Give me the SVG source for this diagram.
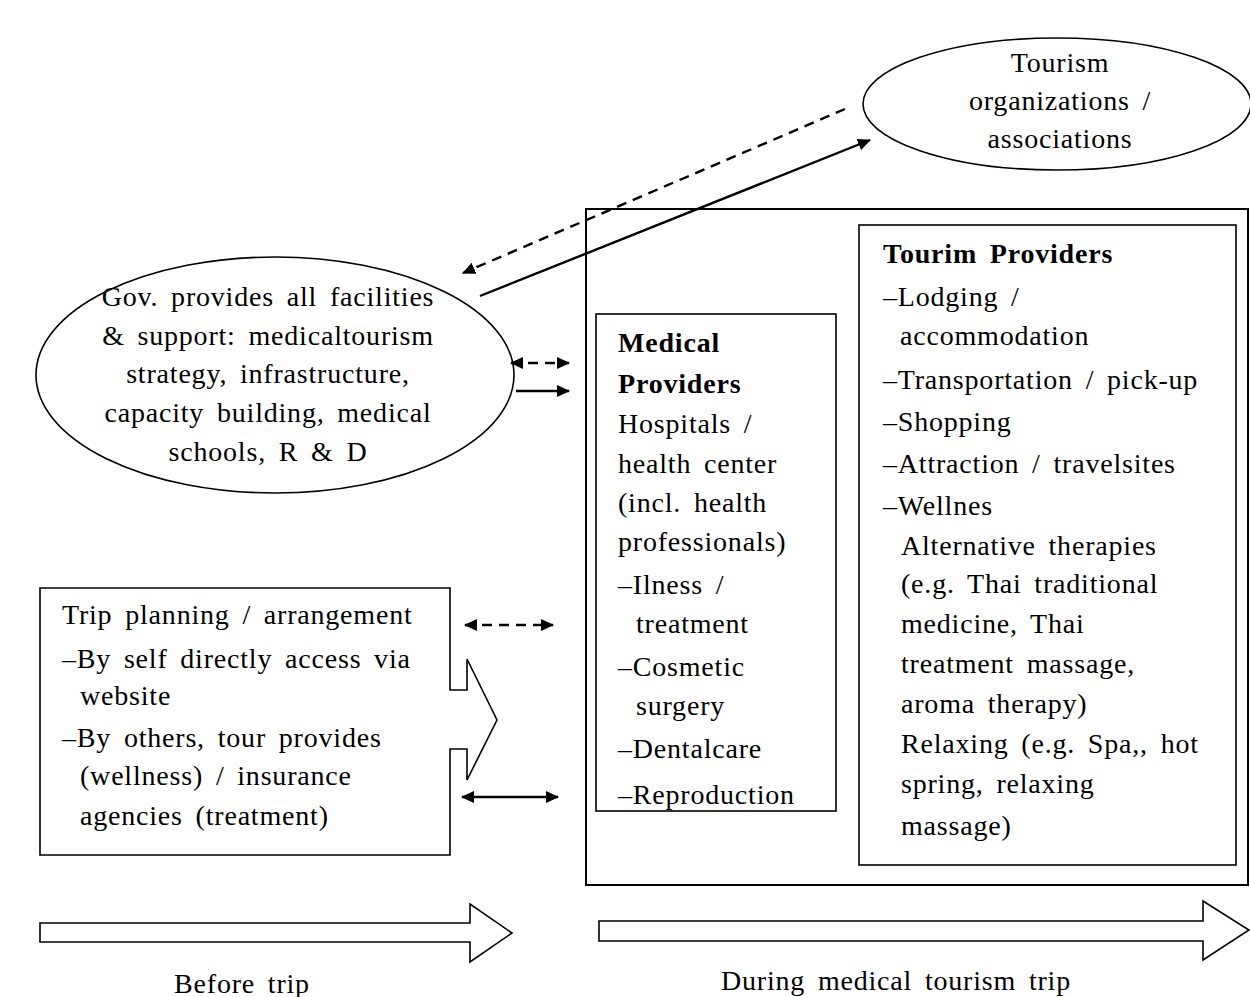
<svg xmlns="http://www.w3.org/2000/svg" width="1250" height="997" viewBox="0 0 1250 997">
<style>
text{font-family:"Liberation Serif","Times New Roman",serif;font-size:28px;letter-spacing:0.8px;word-spacing:5px;fill:#000}
.b{font-weight:bold}
.m{text-anchor:middle}
.shape{fill:#fff;stroke:#000;stroke-width:1.6}
.box{fill:none;stroke:#000;stroke-width:2}
.ln{fill:none;stroke:#000;stroke-width:2.4}
.ds{stroke-dasharray:10 7}
</style>
<defs>
<marker id="ah" markerUnits="userSpaceOnUse" markerWidth="14" markerHeight="12" refX="12" refY="6" orient="auto-start-reverse">
<path d="M0,0 L13,6 L0,12 Z" fill="#000"/>
</marker>
<clipPath id="medclip"><rect x="597" y="315" width="238" height="495"/></clipPath>
</defs>

<g id="tourism-org">
<ellipse class="shape" cx="1057" cy="104" rx="194" ry="66"/>
<text class="m" x="1060" y="72">Tourism</text>
<text class="m" x="1060" y="110">organizations /</text>
<text class="m" x="1060" y="148">associations</text>
</g>

<g id="gov">
<ellipse class="shape" cx="275" cy="375" rx="239" ry="118"/>
<text class="m" x="268" y="306">Gov. provides all facilities</text>
<text class="m" x="268" y="345">&amp; support: medicaltourism</text>
<text class="m" x="268" y="383">strategy, infrastructure,</text>
<text class="m" x="268" y="422">capacity building, medical</text>
<text class="m" x="268" y="461">schools, R &amp; D</text>
</g>

<g id="during-trip-box">
<rect class="box" x="586" y="209" width="662" height="676"/>
</g>

<g id="medical-providers">
<rect class="shape" x="596" y="314" width="240" height="497"/>
<g clip-path="url(#medclip)">
<text class="b" x="618" y="352">Medical</text>
<text class="b" x="618" y="393">Providers</text>
<text x="618" y="433">Hospitals /</text>
<text x="618" y="473">health center</text>
<text x="618" y="512">(incl. health</text>
<text x="618" y="551">professionals)</text>
<text x="618" y="594">–Ilness /</text>
<text x="636" y="633">treatment</text>
<text x="618" y="676">–Cosmetic</text>
<text x="636" y="715">surgery</text>
<text x="618" y="758">–Dentalcare</text>
<text x="618" y="804">–Reproduction</text>
</g>
</g>

<g id="tourism-providers">
<rect class="shape" x="859" y="225" width="377" height="640"/>
<text class="b" x="883" y="263">Tourim Providers</text>
<text x="883" y="306">–Lodging /</text>
<text x="900" y="345">accommodation</text>
<text x="883" y="389">–Transportation / pick-up</text>
<text x="883" y="431">–Shopping</text>
<text x="883" y="473">–Attraction / travelsites</text>
<text x="883" y="515">–Wellnes</text>
<text x="901" y="555">Alternative therapies</text>
<text x="901" y="593">(e.g. Thai traditional</text>
<text x="901" y="633">medicine, Thai</text>
<text x="901" y="673">treatment massage,</text>
<text x="901" y="713">aroma therapy)</text>
<text x="901" y="753">Relaxing (e.g. Spa,, hot</text>
<text x="901" y="793">spring, relaxing</text>
<text x="901" y="835">massage)</text>
</g>

<g id="trip-planning">
<path class="shape" d="M40,588 L450,588 L450,690 L467,690 L467,659 L497,720 L467,780 L467,749 L450,749 L450,855 L40,855 Z"/>
<text x="62" y="624">Trip planning / arrangement</text>
<text x="62" y="668">–By self directly access via</text>
<text x="80" y="705">website</text>
<text x="62" y="747">–By others, tour provides</text>
<text x="80" y="785">(wellness) / insurance</text>
<text x="80" y="825">agencies (treatment)</text>
</g>

<g id="before-trip">
<path class="shape" d="M40,923 L470,923 L470,904 L512,933 L470,962 L470,942 L40,942 Z"/>
<text class="m" x="242" y="993">Before trip</text>
</g>

<g id="during-trip">
<path class="shape" d="M599,921 L1203,921 L1203,901 L1249,930 L1203,960 L1203,941 L599,941 Z"/>
<text class="m" x="896" y="990">During medical tourism trip</text>
</g>

<g id="connectors">
<line class="ln ds" x1="845" y1="109" x2="463" y2="273" marker-end="url(#ah)"/>
<line class="ln" x1="480" y1="296" x2="870" y2="140" marker-end="url(#ah)"/>
<line class="ln ds" x1="511" y1="363" x2="569" y2="363" marker-start="url(#ah)" marker-end="url(#ah)"/>
<line class="ln" x1="516" y1="391" x2="569" y2="391" marker-end="url(#ah)"/>
<line class="ln ds" x1="465" y1="625" x2="553" y2="625" marker-start="url(#ah)" marker-end="url(#ah)"/>
<line class="ln" x1="462" y1="797" x2="558" y2="797" marker-start="url(#ah)" marker-end="url(#ah)"/>
</g>
</svg>
